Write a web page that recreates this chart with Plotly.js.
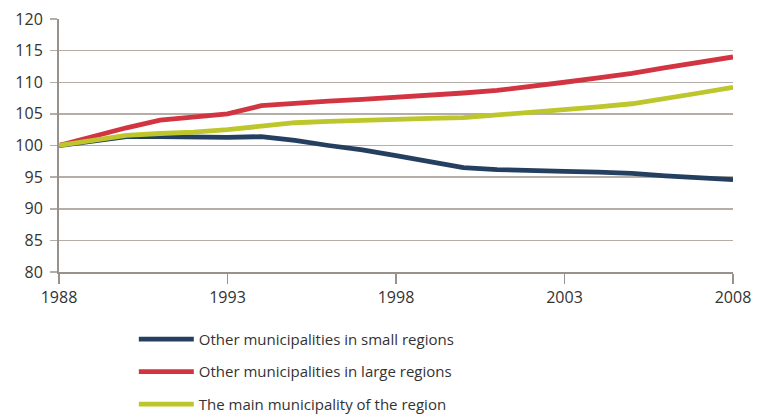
<!DOCTYPE html>
<html>
<head>
<meta charset="utf-8">
<script src="https://cdn.plot.ly/plotly-3.0.1.min.js"></script>
<style>html,body{margin:0;padding:0;background:#fff;}#chart{width:765px;height:415px;}</style>
</head>
<body>
<div id="chart"></div>
<script>
const years = [1988,1989,1990,1991,1992,1993,1994,1995,1996,1997,1998,1999,2000,2001,2002,2003,2004,2005,2006,2007,2008];
const smallRegions = [100,100.7,101.4,101.4,101.3,101.3,101.4,100.8,100.0,99.3,98.4,97.5,96.5,96.2,96.0,95.9,95.8,95.6,95.2,94.9,94.6];
const largeRegions = [100,101.4,102.8,104.0,104.5,105.0,106.3,106.7,107.0,107.3,107.6,107.9,108.3,108.7,109.3,110.0,110.7,111.4,112.3,113.2,114.0];
const mainMunicipality = [100,100.8,101.6,101.9,102.1,102.5,103.1,103.6,103.8,104.0,104.2,104.3,104.4,104.8,105.3,105.7,106.1,106.6,107.4,108.3,109.2];
const seriesNames = ["Other municipalities in small regions","Other municipalities in large regions","The main municipality of the region"];
const xTicks = [1988,1993,1998,2003,2008];
const yTicks = [80,85,90,95,100,105,110,115,120];

const colors = ["#253f60","#d23442","#bdc62a"];
const series = [smallRegions, largeRegions, mainMunicipality];
const traces = series.map((s,i)=>({
  x: years, y: s, type: 'scatter', mode: 'lines', name: seriesNames[i],
  legendgroup: 'g'+i,
  line: {color: colors[i], width: 4.8}
}));
const font = "'Open Sans', sans-serif";
const layout = {
  width: 765, height: 415,
  margin: {l: 59, r: 32, t: 19, b: 143},
  paper_bgcolor: '#fff', plot_bgcolor: '#fff',
  font: {family: font, size: 16, color: '#333'},
  showlegend: true,
  legend: {
    xref: 'paper', yref: 'container',
    x: 0.111, y: 0.222, xanchor: 'left', yanchor: 'top',
    orientation: 'v', traceorder: 'grouped', tracegroupgap: 10,
    font: {family: font, size: 15, color: '#333'},
    itemwidth: 55
  },
  xaxis: {
    range: [1988, 2008], tickvals: xTicks, ticktext: xTicks.map(String),
    showgrid: false, zeroline: false,
    showline: true, linecolor: '#9b918b', linewidth: 2,
    ticks: 'outside', ticklen: 10, tickcolor: '#9b918b', tickwidth: 1.5,
    tickfont: {family: font, size: 16, color: '#333'}
  },
  yaxis: {
    range: [80, 120], tickvals: yTicks, ticktext: yTicks.map(String),
    showgrid: true, gridcolor: '#b5ada8', gridwidth: 1.5, zeroline: false,
    showline: true, linecolor: '#9b918b', linewidth: 2,
    ticks: 'outside', ticklen: 7, tickcolor: '#b5ada8', tickwidth: 1.5,
    ticklabelstandoff: 4,
    tickfont: {family: font, size: 16, color: '#333'}
  }
};
Plotly.newPlot('chart', traces, layout, {displayModeBar: false, staticPlot: true});
</script>
</body>
</html>
